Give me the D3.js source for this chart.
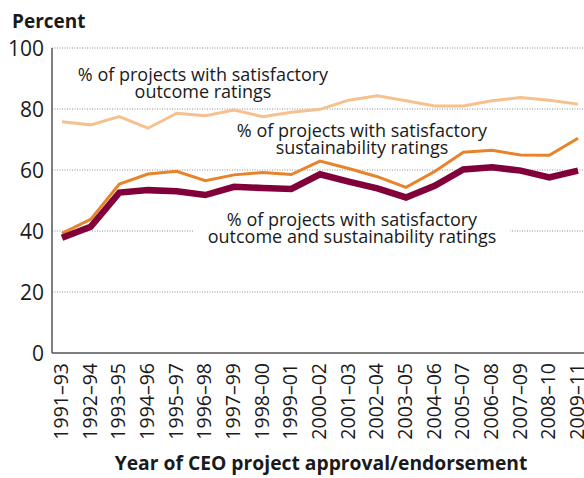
<!DOCTYPE html>
<meta charset="utf-8">
<style>
body { margin: 0; background: #fff; }
text { font-family: "Open Sans", "Noto Sans", sans-serif; fill: #1a1a1a; }
.grid line { stroke: #8c8c8c; stroke-dasharray: 1,1.5; }
</style>
<body>
<svg width="584" height="478"></svg>
<script src="https://d3js.org/d3.v7.min.js"></script>
<script>

var periods = ["1991–93","1992–94","1993–95","1994–96","1995–97","1996–98","1997–99","1998–00","1999–01","2000–02",
  "2001–03","2002–04","2003–05","2004–06","2005–07","2006–08","2007–09","2008–10","2009–11"];

var outcome = [75.8,74.8,77.5,73.7,78.6,77.8,79.7,77.5,78.9,79.9,82.9,84.3,82.7,81.0,81.0,82.7,83.8,82.9,81.6];
var sustain = [39.2,43.8,55.4,58.7,59.6,56.5,58.4,59.2,58.5,62.9,60.5,57.8,54.3,59.5,65.8,66.5,64.9,64.8,70.4];
var both    = [37.8,41.4,52.6,53.4,53.0,51.8,54.5,54.1,53.8,58.6,56.2,54.0,51.0,54.8,60.2,60.9,59.8,57.6,59.8];

var yTicks = [0,20,40,60,80,100];

var svg = d3.select("svg");

var x = d3.scalePoint().domain(periods).range([62, 578]);
var y = d3.scaleLinear().domain([0, 100]).range([353, 48]);

// gridlines
svg.append("g").attr("class", "grid")
  .selectAll("line")
  .data(yTicks.filter(function(d) { return d > 0; }))
  .enter().append("line")
    .attr("x1", 52).attr("x2", 584)
    .attr("y1", function(d) { return y(d); })
    .attr("y2", function(d) { return y(d); });

// labels for the series
var labels = [
  {lines: ["% of projects with satisfactory", "outcome ratings"], cx: 203, y: 81},
  {lines: ["% of projects with satisfactory", "sustainability ratings"], cx: 362, y: 137},
  {lines: ["% of projects with satisfactory", "outcome and sustainability ratings"], cx: 352, y: 226}
];

var lab = svg.append("g").selectAll("g")
  .data(labels)
  .enter().append("g");

lab.append("rect")
  .attr("fill", "#fff")
  .attr("x", function(d) { return d.cx - 158; })
  .attr("width", 316)
  .attr("y", function(d) { return d.y - 14; })
  .attr("height", 36);

lab.append("text")
  .attr("text-anchor", "middle")
  .style("font-size", "18px")
  .selectAll("tspan")
  .data(function(d) { return d.lines.map(function(t, i) { return {t: t, cx: d.cx, y: d.y + i * 17}; }); })
  .enter().append("tspan")
    .attr("x", function(d) { return d.cx; })
    .attr("y", function(d) { return d.y; })
    .text(function(d) { return d.t; });

// series lines
var line = d3.line()
  .x(function(d, i) { return x(periods[i]); })
  .y(function(d) { return y(d); });

var series = [
  {values: outcome, color: "#f6c08f", width: 3},
  {values: sustain, color: "#e8832a", width: 3},
  {values: both, color: "#82003a", width: 6.5}
];

svg.append("g").selectAll("path")
  .data(series)
  .enter().append("path")
    .attr("fill", "none")
    .attr("stroke", function(d) { return d.color; })
    .attr("stroke-width", function(d) { return d.width; })
    .attr("stroke-linejoin", "miter")
    .attr("d", function(d) { return line(d.values); });

// axes
svg.append("line")
  .attr("x1", 52).attr("x2", 52).attr("y1", y(100)).attr("y2", y(0))
  .attr("stroke", "#555").attr("stroke-width", 1.5);
svg.append("line")
  .attr("x1", 52).attr("x2", 584).attr("y1", y(0)).attr("y2", y(0))
  .attr("stroke", "#555").attr("stroke-width", 1.5);

svg.append("g").selectAll("text")
  .data(yTicks)
  .enter().append("text")
    .attr("x", 44)
    .attr("y", function(d) { return y(d) + 7.5; })
    .attr("text-anchor", "end")
    .style("font-size", "21px")
    .text(function(d) { return d; });

svg.append("g").selectAll("text")
  .data(periods)
  .enter().append("text")
    .attr("transform", function(d) { return "translate(" + (x(d) + 6) + ",363) rotate(-90)"; })
    .attr("text-anchor", "end")
    .style("font-size", "19.5px")
    .text(function(d) { return d; });

svg.append("text")
  .attr("x", 12).attr("y", 28)
  .style("font-size", "19px").style("font-weight", "bold")
  .text("Percent");

svg.append("text")
  .attr("x", 321).attr("y", 470)
  .attr("text-anchor", "middle")
  .style("font-size", "19.3px").style("font-weight", "bold")
  .text("Year of CEO project approval/endorsement");

</script>
</body>
</html>
